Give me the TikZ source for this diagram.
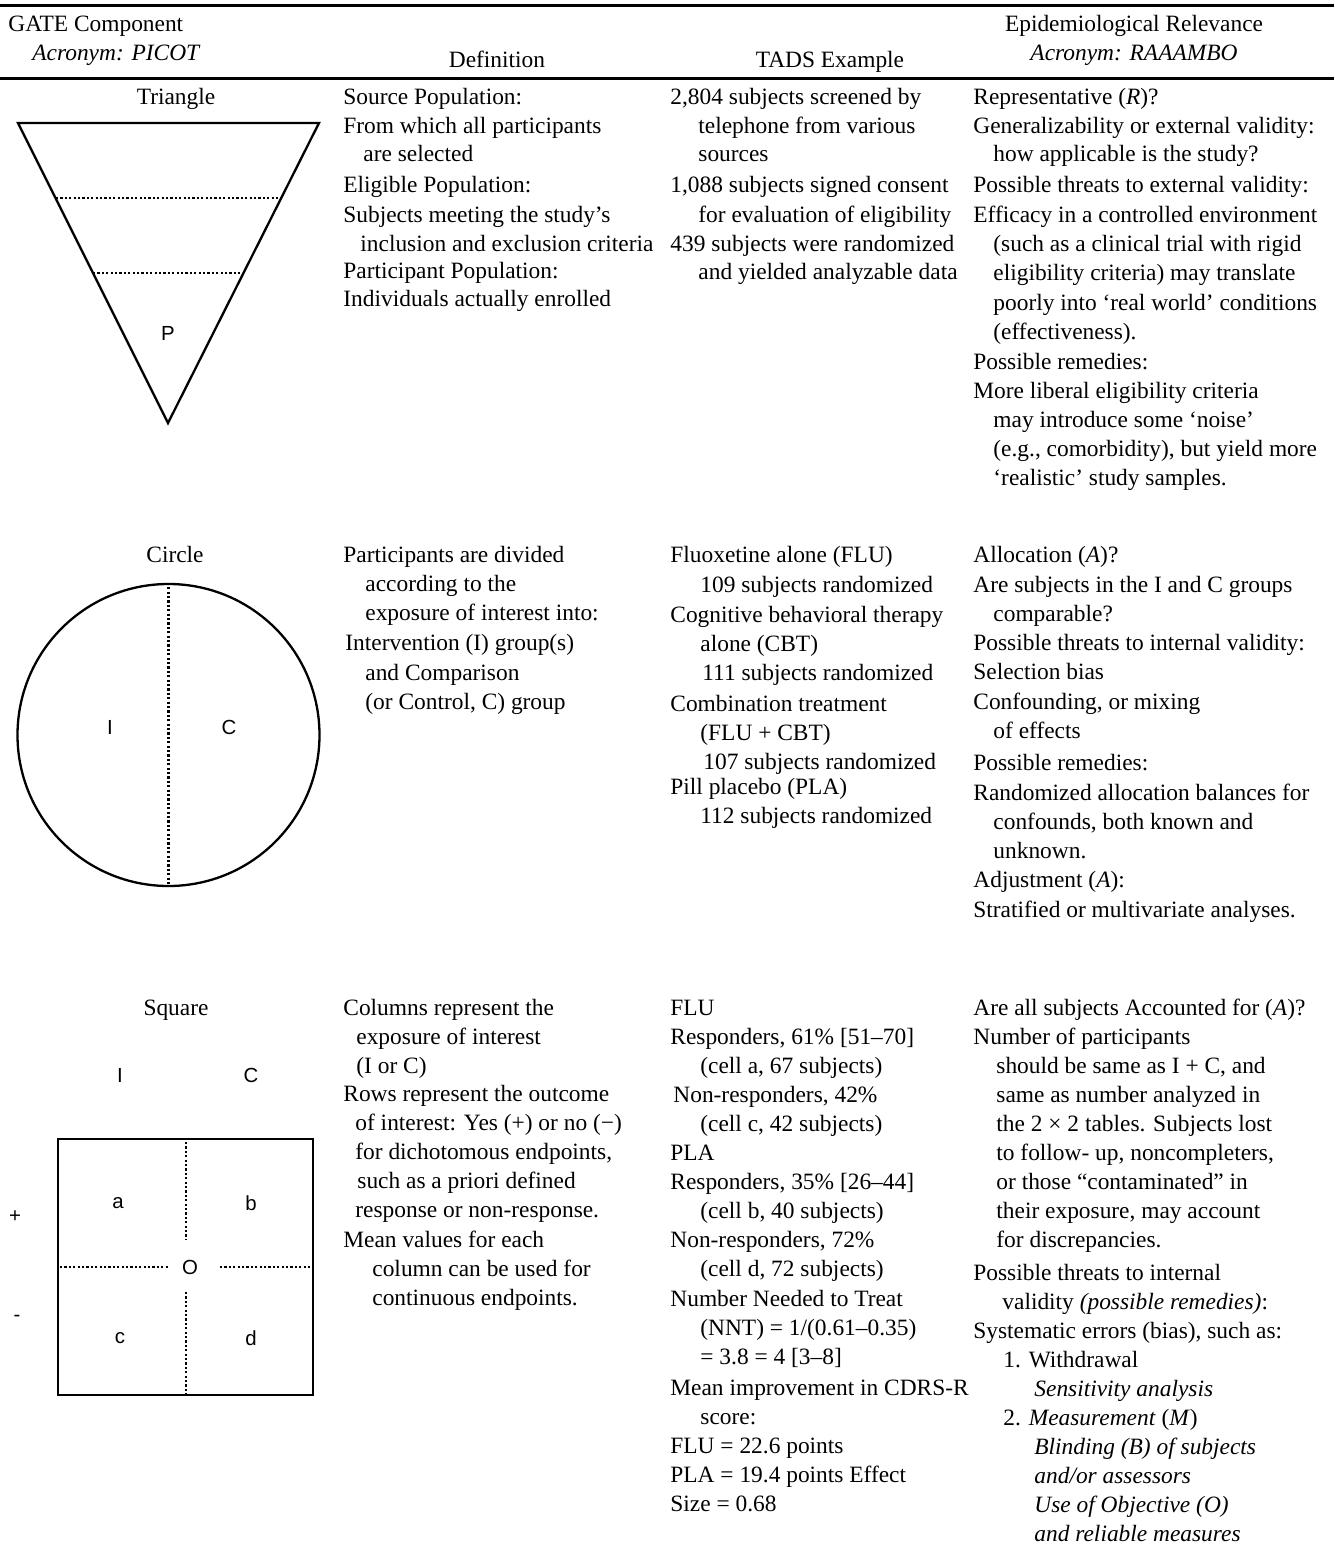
\documentclass[tikz,border=0pt]{standalone}
\usepackage{fontspec}
\setmainfont{Liberation Serif}
\newfontfamily\arialf{Liberation Sans}
\newcommand\bodyfont{\fontsize{11.7}{13}\selectfont}
\newcommand\letfont{\arialf\fontsize{10.2}{11}\selectfont}
\begin{document}
\begin{tikzpicture}[x=0.5pt,y=-0.5pt,
  txt/.style={anchor=base west,inner sep=0pt,font=\bodyfont},
  ctxt/.style={anchor=base,inner sep=0pt,font=\bodyfont},
  itxt/.style={anchor=base west,inner sep=0pt,font=\bodyfont\itshape},
  lett/.style={anchor=center,inner sep=0pt,font=\letfont},
  shp/.style={line width=1.15pt},
  dotln/.style={line width=1.25pt,dash pattern=on 1.1pt off 1.1pt},
  rulel/.style={line width=1.5pt}]
\useasboundingbox (0,0) rectangle (1334,1550);

% rules
\coordinate (rtl) at (0,6); \coordinate (rtr) at (1334,6);
\coordinate (rbl) at (0,79); \coordinate (rbr) at (1334,79);
\draw[rulel] (rtl) -- (rtr);
\draw[rulel] (rbl) -- (rbr);

% header
\node[txt] (h1) at (8,32) {GATE Component};
\node[itxt] (h2) at (32,61) {Acronym: PICOT};
\node[ctxt] (h3) at (497,68) {Definition};
\node[ctxt] (h4) at (830,68) {TADS Example};
\node[ctxt] (h5) at (1134,32) {Epidemiological Relevance};
\node[ctxt,font=\bodyfont\itshape] (h6) at (1134,61) {Acronym: RAAAMBO};

% ---------------- Triangle ----------------
\node[ctxt] (tl) at (176,105) {Triangle};
\coordinate (t1) at (18,123); \coordinate (t2) at (319,123); \coordinate (t3) at (168,423);
\draw[shp,line join=miter] (t1) -- (t2) -- (t3) -- cycle;
\coordinate (td1) at (56,198); \coordinate (td2) at (281,198);
\coordinate (td3) at (93,273); \coordinate (td4) at (243,273);
\draw[dotln] (td1) -- (td2);
\draw[dotln] (td3) -- (td4);
\node[lett] (tp) at (168,333) {P};

\node[txt] (a1) at (343,105) {Source Population:};
\node[txt] (a2) at (343,134) {From which all participants};
\node[txt] (a3) at (363,162) {are selected};
\node[txt] (a4) at (343,193) {Eligible Population:};
\node[txt] (a5) at (343,223) {Subjects meeting the study’s};
\node[txt] (a6) at (360,252) {inclusion and exclusion criteria};
\node[txt] (a7) at (343,279) {Participant Population:};
\node[txt] (a8) at (343,307) {Individuals actually enrolled};

\node[txt] (b1) at (670,105) {2,804 subjects screened by};
\node[txt] (b2) at (698,134) {telephone from various};
\node[txt] (b3) at (698,162) {sources};
\node[txt] (b4) at (670,193) {1,088 subjects signed consent};
\node[txt] (b5) at (698,223) {for evaluation of eligibility};
\node[txt] (b6) at (670,252) {439 subjects were randomized};
\node[txt] (b7) at (698,280) {and yielded analyzable data};

\node[txt] (c1) at (973,105) {Representative (\textit{R})?};
\node[txt] (c2) at (973,134) {Generalizability or external validity:};
\node[txt] (c3) at (993,162) {how applicable is the study?};
\node[txt] (c4) at (973,193) {Possible threats to external validity:};
\node[txt] (c5) at (973,223) {Efficacy in a controlled environment};
\node[txt] (c6) at (993,252) {(such as a clinical trial with rigid};
\node[txt] (c7) at (993,281) {eligibility criteria) may translate};
\node[txt] (c8) at (993,311) {poorly into ‘real world’ conditions};
\node[txt] (c9) at (993,340) {(effectiveness).};
\node[txt] (c10) at (973,370) {Possible remedies:};
\node[txt] (c11) at (973,399) {More liberal eligibility criteria};
\node[txt] (c12) at (993,428) {may introduce some ‘noise’};
\node[txt] (c13) at (993,457) {(e.g., comorbidity), but yield more};
\node[txt] (c14) at (993,486) {‘realistic’ study samples.};

% ---------------- Circle ----------------
\node[ctxt] (cl) at (175,562) {Circle};
\node[shp,draw,circle,minimum size=151pt,inner sep=0pt] (circ) at (168.5,735) {};
\draw[dotln] (circ.north) -- (circ.south);
\node[lett] (ci) at (110,727) {I};
\node[lett] (cc) at (229,727) {C};

\node[txt] (d1) at (343,562) {Participants are divided};
\node[txt] (d2) at (365,591) {according to the};
\node[txt] (d3) at (365,620) {exposure of interest into:};
\node[txt] (d4) at (345,650) {Intervention (I) group(s)};
\node[txt] (d5) at (365,680) {and Comparison};
\node[txt] (d6) at (365,709) {(or Control, C) group};

\node[txt] (e1) at (670,562) {Fluoxetine alone (FLU)};
\node[txt] (e2) at (700,592) {109 subjects randomized};
\node[txt] (e3) at (670,622) {Cognitive behavioral therapy};
\node[txt] (e4) at (700,651) {alone (CBT)};
\node[txt] (e5) at (702,680) {111 subjects randomized};
\node[txt] (e6) at (670,711) {Combination treatment};
\node[txt] (e7) at (700,740) {(FLU + CBT)};
\node[txt] (e8) at (703,769) {107 subjects randomized};
\node[txt] (e9) at (670,794) {Pill placebo (PLA)};
\node[txt] (e10) at (700,823) {112 subjects randomized};

\node[txt] (f1) at (973,562) {Allocation (\textit{A})?};
\node[txt] (f2) at (973,592) {Are subjects in the I and C groups};
\node[txt] (f3) at (993,621) {comparable?};
\node[txt] (f4) at (973,650) {Possible threats to internal validity:};
\node[txt] (f5) at (973,679) {Selection bias};
\node[txt] (f6) at (973,709) {Confounding, or mixing};
\node[txt] (f7) at (993,738) {of effects};
\node[txt] (f8) at (973,770) {Possible remedies:};
\node[txt] (f9) at (973,800) {Randomized allocation balances for};
\node[txt] (f10) at (993,829) {confounds, both known and};
\node[txt] (f11) at (993,858) {unknown.};
\node[txt] (f12) at (973,887) {Adjustment (\textit{A}):};
\node[txt] (f13) at (973,917) {Stratified or multivariate analyses.};

% ---------------- Square ----------------
\node[ctxt] (sl) at (176,1015) {Square};
\node[lett] (si) at (120,1075) {I};
\node[lett] (sc) at (251,1075) {C};
\node[lett] (sp) at (15,1217) {+};
\node[lett] (sm) at (17,1318) {-};
\coordinate (s1) at (58,1139); \coordinate (s2) at (313,1395);
\draw[shp] (s1) rectangle (s2);
\coordinate (v1) at (186,1142); \coordinate (v2) at (186,1240);
\coordinate (v3) at (186,1292); \coordinate (v4) at (186,1395);
\coordinate (w1) at (60,1267); \coordinate (w2) at (168,1267);
\coordinate (w3) at (220,1267); \coordinate (w4) at (313,1267);
\draw[dotln] (v1) -- (v2);
\draw[dotln] (v3) -- (v4);
\draw[dotln] (w1) -- (w2);
\draw[dotln] (w3) -- (w4);
\node[lett] (sa) at (118,1203) {a};
\node[lett] (sb) at (251,1203) {b};
\node[lett] (so) at (190,1267) {O};
\node[lett] (scc) at (120,1338) {c};
\node[lett] (sd) at (251,1338) {d};

\node[txt] (g1) at (343,1015) {Columns represent the};
\node[txt] (g2) at (356,1044) {exposure of interest};
\node[txt] (g3) at (356,1073) {(I or C)};
\node[txt] (g4) at (343,1101) {Rows represent the outcome};
\node[txt] (g5) at (355,1130) {of interest: Yes (+) or no (−)};
\node[txt] (g6) at (355,1159) {for dichotomous endpoints,};
\node[txt] (g7) at (357,1188) {such as a priori defined};
\node[txt] (g8) at (355,1217) {response or non-response.};
\node[txt] (g9) at (343,1247) {Mean values for each};
\node[txt] (g10) at (372,1276) {column can be used for};
\node[txt] (g11) at (372,1305) {continuous endpoints.};

\node[txt] (k1) at (670,1015) {FLU};
\node[txt] (k2) at (670,1044) {Responders, 61\% [51–70]};
\node[txt] (k3) at (700,1073) {(cell a, 67 subjects)};
\node[txt] (k4) at (673,1102) {Non-responders, 42\%};
\node[txt] (k5) at (700,1131) {(cell c, 42 subjects)};
\node[txt] (k6) at (670,1160) {PLA};
\node[txt] (k7) at (670,1189) {Responders, 35\% [26–44]};
\node[txt] (k8) at (700,1218) {(cell b, 40 subjects)};
\node[txt] (k9) at (670,1247) {Non-responders, 72\%};
\node[txt] (k10) at (700,1276) {(cell d, 72 subjects)};
\node[txt] (k11) at (670,1306) {Number Needed to Treat};
\node[txt] (k12) at (700,1335) {(NNT) = 1/(0.61–0.35)};
\node[txt] (k13) at (700,1364) {= 3.8 = 4 [3–8]};
\node[txt] (k14) at (670,1395) {Mean improvement in CDRS-R};
\node[txt] (k15) at (700,1424) {score:};
\node[txt] (k16) at (670,1453) {FLU = 22.6 points};
\node[txt] (k17) at (670,1482) {PLA = 19.4 points Effect};
\node[txt] (k18) at (670,1511) {Size = 0.68};

\node[txt] (m1) at (973,1015) {Are all subjects Accounted for (\textit{A})?};
\node[txt] (m2) at (973,1044) {Number of participants};
\node[txt] (m3) at (996,1073) {should be same as I + C, and};
\node[txt] (m4) at (996,1102) {same as number analyzed in};
\node[txt] (m5) at (996,1131) {the 2 × 2 tables. Subjects lost};
\node[txt] (m6) at (996,1160) {to follow- up, noncompleters,};
\node[txt] (m7) at (996,1189) {or those “contaminated” in};
\node[txt] (m8) at (996,1218) {their exposure, may account};
\node[txt] (m9) at (996,1247) {for discrepancies.};
\node[txt] (m10) at (973,1280) {Possible threats to internal};
\node[txt] (m11) at (1002,1309) {validity \textit{(possible remedies)}:};
\node[txt] (m12) at (973,1338) {Systematic errors (bias), such as:};
\node[txt] (m13) at (1003,1367) {1. Withdrawal};
\node[itxt] (m14) at (1034,1396) {Sensitivity analysis};
\node[txt] (m15) at (1003,1425) {2. \textit{Measurement} (\textit{M})};
\node[itxt] (m16) at (1034,1454) {Blinding (B) of subjects};
\node[itxt] (m17) at (1034,1483) {and/or assessors};
\node[itxt] (m18) at (1034,1512) {Use of Objective (O)};
\node[itxt] (m19) at (1034,1541) {and reliable measures};
\end{tikzpicture}
\end{document}
